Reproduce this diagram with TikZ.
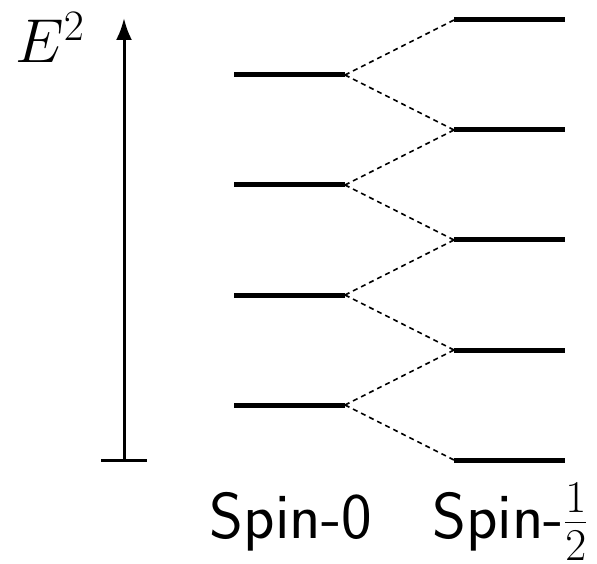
\RequirePackage{fix-cm}
\documentclass[tikz,border=0pt]{standalone}
\usetikzlibrary{arrows.meta}
\begin{document}
\begin{tikzpicture}[x=1pt,y=-1pt,
  level/.style={line width=5pt},
  split/.style={line width=1.6pt, dash pattern=on 5pt off 4pt},
  axis/.style={line width=3pt},
  spinlabel/.style={anchor=base, inner sep=0pt, font=\fontsize{65}{72}\selectfont\sffamily}]
\useasboundingbox (0,0) rectangle (597,564);
% axis
\coordinate (ax0) at (124,460);
\coordinate (ax1) at (124,18);
\coordinate (tl) at (101,460);
\coordinate (tr) at (147,460);
\draw[axis, -{Latex[length=22pt,width=16pt]}] (ax0) -- (ax1);
\draw[axis] (tl) -- (tr);
\node[anchor=base west, inner sep=0pt, font=\fontsize{62}{70}\selectfont] (elab) at (15,63) {$E^2$};
% spin-0 levels
\foreach \i/\y in {1/75,2/185,3/295,4/405}{
  \coordinate (z\i l) at (234,\y);
  \coordinate (z\i r) at (345,\y);
  \draw[level] (z\i l) -- (z\i r);
}
% spin-1/2 levels
\foreach \i/\y in {0/20,1/130,2/240,3/350,4/460}{
  \coordinate (h\i l) at (454,\y);
  \coordinate (h\i r) at (565,\y);
  \draw[level] (h\i l) -- (h\i r);
}
% splittings
\foreach \i [evaluate=\i as \j using int(\i-1)] in {1,2,3,4}{
  \draw[split] (z\i r) -- (h\j l);
  \draw[split] (z\i r) -- (h\i l);
}
\node[spinlabel] (lab0) at (291,538) {Spin-0};
\node[spinlabel] (lab1) at (510,538) {Spin-$\frac{1}{2}$};
\end{tikzpicture}
\end{document}
